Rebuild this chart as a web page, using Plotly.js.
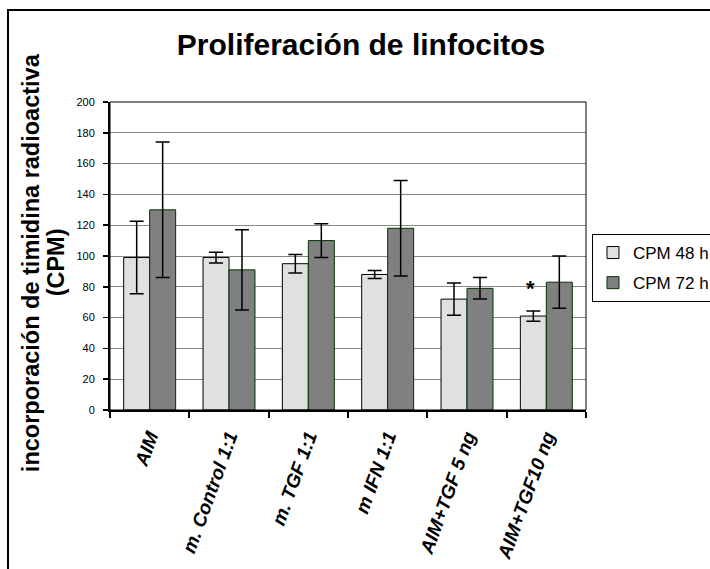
<!DOCTYPE html>
<html>
<head>
<meta charset="utf-8">
<script src="https://cdn.plot.ly/plotly-3.0.1.min.js"></script>
<style>
  html, body { margin: 0; padding: 0; background: #ffffff; }
  #chart { width: 710px; height: 569px; }
</style>
</head>
<body>
<div id="chart"></div>
<script>
// ---- data ----
const categories = ["AIM", "m. Control 1:1", "m. TGF 1:1", "m IFN 1:1", "AIM+TGF 5 ng", "AIM+TGF10 ng"];
const cpm48 = [99, 99, 95, 88, 72, 61];
const err48 = [23.5, 3.5, 6, 2.6, 10.4, 3.3];
const cpm72 = [130, 91, 110, 118, 79, 83];
const err72 = [44, 26, 11, 31, 7, 17];
const seriesNames = ["CPM 48 h", "CPM 72 h"];
const significant = ["AIM+TGF10 ng"];   // categories marked with *
const yTickVals = [0, 20, 40, 60, 80, 100, 120, 140, 160, 180, 200];
const titleText = "Proliferación de linfocitos";
const yTitleLines = ["incorporación de timidina radioactiva", "(CPM)"];

const FONT = "Liberation Sans, Arial, sans-serif";

const traces = [
  {
    type: "bar", name: seriesNames[0], x: categories, y: cpm48, legendgroup: "g1",
    marker: { color: "#e0e0e0", line: { color: "#000000", width: 1 } },
    error_y: { type: "data", array: err48, visible: true, color: "#000000", thickness: 1.5, width: 7 }
  },
  {
    type: "bar", name: seriesNames[1], x: categories, y: cpm72, legendgroup: "g2",
    marker: { color: "#808080", line: { color: "#003300", width: 1 } },
    error_y: { type: "data", array: err72, visible: true, color: "#000000", thickness: 1.5, width: 7 }
  }
];

const annotations = [];
significant.forEach(function (c) {
  const i = categories.indexOf(c);
  annotations.push({
    x: c, y: cpm48[i] + err48[i], xref: "x", yref: "y",
    text: "<b>*</b>", showarrow: false, xshift: -16, yshift: 8,
    xanchor: "center", yanchor: "bottom",
    font: { family: FONT, size: 22, color: "#000000" }
  });
});
annotations.push({
  x: -0.166, y: 0.48, xref: "paper", yref: "paper", textangle: -90,
  text: yTitleLines[0], showarrow: false, xanchor: "center", yanchor: "middle",
  font: { family: FONT, size: 23.5, color: "#000000", weight: "bold" }
});
annotations.push({
  x: -0.113, y: 0.48, xref: "paper", yref: "paper", textangle: -90,
  text: yTitleLines[1], showarrow: false, xanchor: "center", yanchor: "middle",
  font: { family: FONT, size: 23.5, color: "#000000", weight: "bold" }
});

const layout = {
  width: 710, height: 569,
  margin: { l: 110, r: 124, t: 102, b: 159, pad: 0, autoexpand: false },
  paper_bgcolor: "#ffffff", plot_bgcolor: "#ffffff",
  font: { family: FONT, color: "#000000" },
  title: {
    text: "<b>" + titleText + "</b>",
    x: 0.5085, xref: "container", xanchor: "center",
    y: 0.922, yref: "container", yanchor: "middle",
    font: { family: FONT, size: 30, color: "#000000" }
  },
  barmode: "group", bargap: 0.345, bargroupgap: 0,
  xaxis: {
    type: "category", tickson: "boundaries", ticks: "outside", ticklen: 6, tickwidth: 2, tickcolor: "#000000",
    showline: true, linecolor: "#000000", linewidth: 2, showgrid: false,
    tickangle: -70, automargin: false, ticklabelstandoff: 6,
    tickfont: { family: FONT, size: 19, color: "#000000", weight: "bold", style: "italic" }
  },
  yaxis: {
    range: [0, 200], tickvals: yTickVals, ticks: "outside", ticklen: 5, tickwidth: 1.5, tickcolor: "#000000",
    showline: true, linecolor: "#000000", linewidth: 2, zeroline: false,
    showgrid: true, gridcolor: "#888888", gridwidth: 1,
    ticklabelstandoff: 6, automargin: false,
    tickfont: { family: FONT, size: 11, color: "#000000" }
  },
  legend: {
    x: 1.0126, y: 0.5714, xanchor: "left", yanchor: "top",
    bgcolor: "#ffffff", bordercolor: "#000000", borderwidth: 1,
    traceorder: "grouped", tracegroupgap: 5,
    font: { family: FONT, size: 17, color: "#000000" }
  },
  shapes: [
    { type: "rect", xref: "paper", yref: "paper", x0: 0, x1: 1, y0: 0, y1: 1,
      line: { color: "#000000", width: 1 }, fillcolor: "rgba(0,0,0,0)", layer: "above" },
    { type: "rect", xref: "paper", yref: "paper", x0: -0.2143, x1: 1.4, y0: -0.6, y1: 1.2987,
      line: { color: "#000000", width: 2 }, fillcolor: "rgba(0,0,0,0)", layer: "above" }
  ],
  annotations: annotations,
  showlegend: true
};

Plotly.newPlot("chart", traces, layout, { displayModeBar: false, staticPlot: true });
</script>
</body>
</html>
